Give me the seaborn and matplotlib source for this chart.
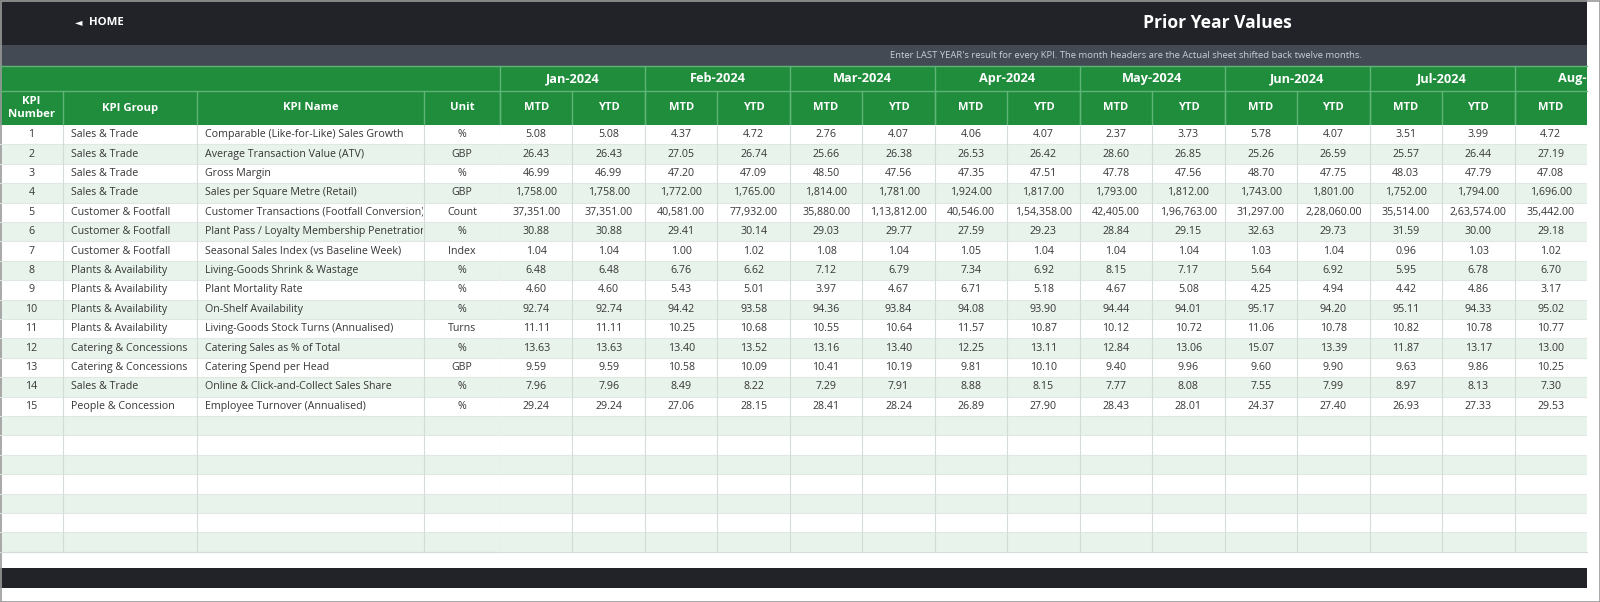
import numpy as np
import pandas as pd
import matplotlib
matplotlib.use("Agg")
import matplotlib.pyplot as plt
from matplotlib.patches import Rectangle
from matplotlib.colors import ListedColormap
from matplotlib.transforms import Bbox, TransformedBbox
import seaborn as sns

# ---------------- data ----------------
kpi_number = list(range(1, 16))
kpi_group = ["Sales & Trade", "Sales & Trade", "Sales & Trade", "Sales & Trade",
             "Customer & Footfall", "Customer & Footfall", "Customer & Footfall",
             "Plants & Availability", "Plants & Availability", "Plants & Availability",
             "Plants & Availability", "Catering & Concessions", "Catering & Concessions",
             "Sales & Trade", "People & Concession"]
kpi_name = ["Comparable (Like-for-Like) Sales Growth", "Average Transaction Value (ATV)",
            "Gross Margin", "Sales per Square Metre (Retail)",
            "Customer Transactions (Footfall Conversion)",
            "Plant Pass / Loyalty Membership Penetration",
            "Seasonal Sales Index (vs Baseline Week)", "Living-Goods Shrink & Wastage",
            "Plant Mortality Rate", "On-Shelf Availability",
            "Living-Goods Stock Turns (Annualised)", "Catering Sales as % of Total",
            "Catering Spend per Head", "Online & Click-and-Collect Sales Share",
            "Employee Turnover (Annualised)"]
unit = ["%", "GBP", "%", "GBP", "Count", "%", "Index", "%", "%", "%", "Turns", "%", "GBP", "%", "%"]

months = ["Jan-2024", "Feb-2024", "Mar-2024", "Apr-2024", "May-2024", "Jun-2024", "Jul-2024", "Aug-2024"]
sub_headers = ["MTD", "YTD"]

jan_mtd = [5.08, 26.43, 46.99, 1758, 37351, 30.88, 1.04, 6.48, 4.60, 92.74, 11.11, 13.63, 9.59, 7.96, 29.24]
jan_ytd = [5.08, 26.43, 46.99, 1758, 37351, 30.88, 1.04, 6.48, 4.60, 92.74, 11.11, 13.63, 9.59, 7.96, 29.24]
feb_mtd = [4.37, 27.05, 47.20, 1772, 40581, 29.41, 1.00, 6.76, 5.43, 94.42, 10.25, 13.40, 10.58, 8.49, 27.06]
feb_ytd = [4.72, 26.74, 47.09, 1765, 77932, 30.14, 1.02, 6.62, 5.01, 93.58, 10.68, 13.52, 10.09, 8.22, 28.15]
mar_mtd = [2.76, 25.66, 48.50, 1814, 35880, 29.03, 1.08, 7.12, 3.97, 94.36, 10.55, 13.16, 10.41, 7.29, 28.41]
mar_ytd = [4.07, 26.38, 47.56, 1781, 113812, 29.77, 1.04, 6.79, 4.67, 93.84, 10.64, 13.40, 10.19, 7.91, 28.24]
apr_mtd = [4.06, 26.53, 47.35, 1924, 40546, 27.59, 1.05, 7.34, 6.71, 94.08, 11.57, 12.25, 9.81, 8.88, 26.89]
apr_ytd = [4.07, 26.42, 47.51, 1817, 154358, 29.23, 1.04, 6.92, 5.18, 93.90, 10.87, 13.11, 10.10, 8.15, 27.90]
may_mtd = [2.37, 28.60, 47.78, 1793, 42405, 28.84, 1.04, 8.15, 4.67, 94.44, 10.12, 12.84, 9.40, 7.77, 28.43]
may_ytd = [3.73, 26.85, 47.56, 1812, 196763, 29.15, 1.04, 7.17, 5.08, 94.01, 10.72, 13.06, 9.96, 8.08, 28.01]
jun_mtd = [5.78, 25.26, 48.70, 1743, 31297, 32.63, 1.03, 5.64, 4.25, 95.17, 11.06, 15.07, 9.60, 7.55, 24.37]
jun_ytd = [4.07, 26.59, 47.75, 1801, 228060, 29.73, 1.04, 6.92, 4.94, 94.20, 10.78, 13.39, 9.90, 7.99, 27.40]
jul_mtd = [3.51, 25.57, 48.03, 1752, 35514, 31.59, 0.96, 5.95, 4.42, 95.11, 10.82, 11.87, 9.63, 8.97, 26.93]
jul_ytd = [3.99, 26.44, 47.79, 1794, 263574, 30.00, 1.03, 6.78, 4.86, 94.33, 10.78, 13.17, 9.86, 8.13, 27.33]
aug_mtd = [4.72, 27.19, 47.08, 1696, 35442, 29.18, 1.02, 6.70, 3.17, 95.02, 10.77, 13.00, 10.25, 7.30, 29.53]

title = "Prior Year Values"
subtitle = "Enter LAST YEAR's result for every KPI. The month headers are the Actual sheet shifted back twelve months."
n_empty_rows = 7

# ---------------- style ----------------
sns.set_theme(style="white")
FONT = ["Open Sans", "DejaVu Sans"]
plt.rcParams["font.family"] = FONT

DARK = "#212328"
SUBBAR = "#434a54"
GREEN = "#1f8d3c"
GREEN_LINE = "#5fb577"
ROW_ALT = "#e8f3eb"
GRID = "#d3dcd7"
HGRID = "#dfe8e2"
TXT = "#363636"
BODY_FS = 7.7

W, H = 1600, 602
fig = plt.figure(figsize=(W / 100, H / 100), dpi=100)
ax = fig.add_axes([0, 0, 1, 1])
ax.set_xlim(0, W)
ax.set_ylim(H, 0)
ax.axis("off")

TABLE_R = 1587
TOP_H = 45
SUB_Y1 = 66
MON_Y1 = 91
HDR_Y1 = 125
ROW_H = 19.4
text_cols = [0, 63, 197, 424, 500]
num_cols = [(m, s) for m in months for s in sub_headers][:15]
n_num = len(num_cols)
col_w = (TABLE_R - text_cols[-1]) / n_num
n_rows = len(kpi_number) + n_empty_rows
TABLE_B = HDR_Y1 + n_rows * ROW_H

# top bar
ax.add_patch(Rectangle((0, 0), TABLE_R, TOP_H, color=DARK, lw=0))
ax.text(75, TOP_H / 2, "\u25C4", color="white", fontsize=7, ha="left", va="center",
        family="DejaVu Sans")
ax.text(89, TOP_H / 2, "HOME", color="white", fontsize=8.2, fontweight="bold",
        ha="left", va="center")
ax.text(1217, TOP_H / 2, title, color="white", fontsize=12.6, fontweight="bold",
        ha="center", va="center")
# subtitle bar
ax.add_patch(Rectangle((0, TOP_H), TABLE_R, SUB_Y1 - TOP_H, color=SUBBAR, lw=0))
ax.text(1362, (TOP_H + SUB_Y1) / 2 + 0.5, subtitle, color="#c9ced4", fontsize=6.8,
        ha="right", va="center")

# header rows
ax.add_patch(Rectangle((0, SUB_Y1), TABLE_R, HDR_Y1 - SUB_Y1, color=GREEN, lw=0))
ax.plot([0, TABLE_R], [SUB_Y1, SUB_Y1], color=GREEN_LINE, lw=1)
ax.plot([0, TABLE_R], [MON_Y1, MON_Y1], color=GREEN_LINE, lw=1)
clip = TransformedBbox(Bbox([[0, 0], [TABLE_R, H]]), ax.transData)
for i, m in enumerate(months):
    x0 = text_cols[-1] + 2 * i * col_w
    ax.plot([x0, x0], [SUB_Y1, HDR_Y1], color=GREEN_LINE, lw=1)
    t = ax.text(x0 + col_w, (SUB_Y1 + MON_Y1) / 2, m, color="white", fontsize=9.2,
                fontweight="bold", ha="center", va="center")
    t.set_clip_box(clip)
    t.set_clip_on(True)
for j, (m, s) in enumerate(num_cols):
    x0 = text_cols[-1] + j * col_w
    ax.plot([x0, x0], [MON_Y1, HDR_Y1], color=GREEN_LINE, lw=1)
    ax.text(x0 + col_w / 2, (MON_Y1 + HDR_Y1) / 2, s, color="white", fontsize=8,
            fontweight="bold", ha="center", va="center")
hdr_labels = ["KPI\nNumber", "KPI Group", "KPI Name", "Unit"]
for k, lab in enumerate(hdr_labels):
    x0, x1 = text_cols[k], text_cols[k + 1]
    if k > 0:
        ax.plot([x0, x0], [MON_Y1, HDR_Y1], color=GREEN_LINE, lw=1)
    ax.text((x0 + x1) / 2, (MON_Y1 + HDR_Y1) / 2, lab, color="white", fontsize=8.2,
            fontweight="bold", ha="center", va="center", linespacing=1.25)

# text columns body
for r in range(n_rows):
    y0 = HDR_Y1 + r * ROW_H
    fc = "white" if r % 2 == 0 else ROW_ALT
    ax.add_patch(Rectangle((0, y0), text_cols[-1], ROW_H, facecolor=fc, lw=0))
    ax.plot([0, text_cols[-1]], [y0 + ROW_H, y0 + ROW_H], color=HGRID, lw=0.8)
    if r < len(kpi_number):
        yc = y0 + ROW_H / 2
        vals = [str(kpi_number[r]), kpi_group[r], kpi_name[r], unit[r]]
        for k, v in enumerate(vals):
            x0, x1 = text_cols[k], text_cols[k + 1]
            if k in (1, 2):
                t = ax.text(x0 + 8, yc, v, color=TXT, fontsize=BODY_FS, ha="left", va="center")
                t.set_clip_box(TransformedBbox(Bbox([[x0, y0], [x1 - 1, y0 + ROW_H]]), ax.transData))
                t.set_clip_on(True)
            else:
                ax.text((x0 + x1) / 2, yc, v, color=TXT, fontsize=BODY_FS, ha="center", va="center")
for x in text_cols[1:]:
    ax.plot([x, x], [HDR_Y1, TABLE_B], color=GRID, lw=0.8)
ax.plot([0, TABLE_R], [TABLE_B, TABLE_B], color=GRID, lw=0.8)

# bottom bar and frame
ax.add_patch(Rectangle((0, 568), TABLE_R, 20, color=DARK, lw=0))
ax.add_patch(Rectangle((0.5, 0.5), W - 1, H - 1, fill=False, edgecolor="#9a9a9a", lw=1.2))


# ---------------- numeric body via seaborn heatmap ----------------
def fmt_indian(v):
    s = f"{v:.2f}"
    ip, dp = s.split(".")
    if len(ip) > 3:
        head, tail = ip[:-3], ip[-3:]
        groups = []
        while len(head) > 2:
            groups.insert(0, head[-2:])
            head = head[:-2]
        if head:
            groups.insert(0, head)
        ip = ",".join(groups + [tail])
    return ip + "." + dp


series = [jan_mtd, jan_ytd, feb_mtd, feb_ytd, mar_mtd, mar_ytd, apr_mtd, apr_ytd,
          may_mtd, may_ytd, jun_mtd, jun_ytd, jul_mtd, jul_ytd, aug_mtd]
labels = [f"{m} {s}" for m, s in num_cols]
df = pd.DataFrame({lab: vals for lab, vals in zip(labels, series)})
annot = np.full((n_rows, n_num), "", dtype=object)
annot[:len(df)] = df.map(fmt_indian).values
parity = np.array([[r % 2 for _ in range(n_num)] for r in range(n_rows)])

hax = fig.add_axes([text_cols[-1] / W, 1 - TABLE_B / H, (TABLE_R - text_cols[-1]) / W,
                    (TABLE_B - HDR_Y1) / H])
sns.heatmap(parity, ax=hax, cmap=ListedColormap(["white", ROW_ALT]), vmin=0, vmax=1,
            cbar=False, annot=annot, fmt="", annot_kws={"fontsize": BODY_FS, "color": TXT},
            linewidths=0, xticklabels=False, yticklabels=False)
hax.tick_params(left=False, bottom=False)
hax.hlines(np.arange(1, n_rows), 0, n_num, color=HGRID, lw=0.8)
hax.vlines(np.arange(1, n_num), 0, n_rows, color=GRID, lw=0.8)

fig.savefig("out.png", dpi=100)
